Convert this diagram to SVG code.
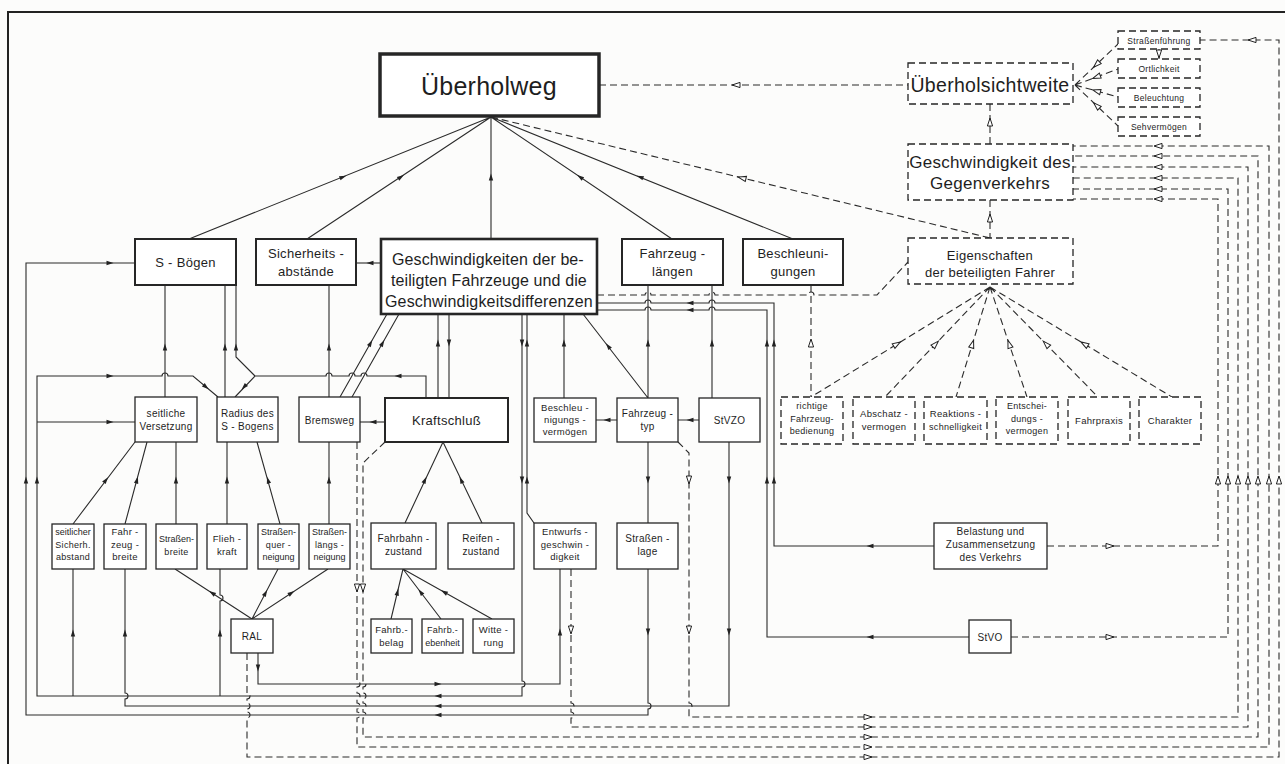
<svg xmlns="http://www.w3.org/2000/svg" xmlns:xlink="http://www.w3.org/1999/xlink" width="1285" height="764" viewBox="0 0 1285 764">
<style>
text{font-family:"Liberation Sans",Arial,sans-serif;fill:#1e1e1e;text-anchor:middle;letter-spacing:0.3px}
.bx{fill:#fff;stroke:#262626;stroke-width:1.3}
.m{stroke-width:2}
.t{stroke-width:3.5}
.bd{stroke-dasharray:7 4}
.ln{fill:none;stroke:#2b2b2b;stroke-width:1.1}
.dl{stroke-dasharray:7 4}
.f9{font-size:9px}.f95{font-size:9.5px}.f10{font-size:10px}.f13{font-size:13px}
</style>
<defs>
<path id="fa" d="M3.5,0 L-3.5,-2.2 L-3.5,2.2 Z" fill="#222"/>
<path id="ha" d="M4,0 L-4,-2.6 L-4,2.6 Z" fill="#fff" stroke="#222" stroke-width="1"/>
</defs>
<rect width="1285" height="764" fill="#fcfcfb"/>
<path d="M8,764 V12 H1285" fill="none" stroke="#222" stroke-width="2"/>

<g id="connectors">
<!-- fan from Überholweg -->
<path class="ln" d="M491,117 L189,239 M491,117 L307,239 M491,117 L491,239 M491,117 L672,239 M491,117 L793,239"/>
<path class="ln dl" d="M491,117 L990,238"/>
<path class="ln dl" d="M599,85 H908"/>
<!-- Überholsichtweite fan -->
<path class="ln dl" d="M1075,85 L1118,44 M1075,85 L1118,69 M1075,85 L1118,97 M1075,85 L1118,126"/>
<path class="ln" d="M1159,49 V59"/>
<path class="ln dl" d="M990,104 V144 M990,200 V238"/>
<!-- RAL -> Straßenführung -->
<path class="ln dl" d="M247,653 V693 A3,3 0 0 1 247,699 V703 A3,3 0 0 1 247,709 V712 A3,3 0 0 1 247,718 V757 H1279 V40 H1200"/>
<!-- loops to Gegenverkehr -->
<path class="ln dl" d="M357,442 V681 A3,3 0 0 1 357,687 V693 A3,3 0 0 1 357,699 V703 A3,3 0 0 1 357,709 V712 A3,3 0 0 1 357,718 V747 H1269 V146 H1073"/>
<path class="ln dl" d="M385,442 L363,463 V681 A3,3 0 0 1 363,687 V693 A3,3 0 0 1 363,699 V703 A3,3 0 0 1 363,709 V712 A3,3 0 0 1 363,718 V737 H1258 V156 H1073"/>
<path class="ln dl" d="M571,569 V703 A3,3 0 0 1 571,709 V712 A3,3 0 0 1 571,718 V727 H1248 V167 H1073"/>
<path class="ln dl" d="M678,442 L689,453 V703 A3,3 0 0 1 689,709 V717 H1238 V178 H1073"/>
<path class="ln dl" d="M1047,546 H1218 V199 H1073"/>
<path class="ln dl" d="M1011,637 H1228 V189 H1073"/>
<!-- Eigenschaften links -->
<path class="ln dl" d="M597,295 H645 A3,3 0 0 1 651,295 H709 A3,3 0 0 1 715,295 H808 A3,3 0 0 1 814,295 H877 L908,262"/>
<path class="ln dl" d="M811,285 V397"/>
<path class="ln dl" d="M990,287 L811,397 M990,287 L885,397 M990,287 L956,397 M990,287 L1027,397 M990,287 L1098,397 M990,287 L1172,397"/>
<!-- Belastung / StVO to Geschwindigkeiten -->
<path class="ln" d="M597,303 H645 A3,3 0 0 1 651,303 H709 A3,3 0 0 1 715,303 H774 V546 H934"/>
<path class="ln" d="M597,310 H645 A3,3 0 0 1 651,310 H709 A3,3 0 0 1 715,310 H767 V637 H969"/>
<!-- left network -->
<path class="ln" d="M381,263 H356"/>
<path class="ln" d="M648,569 V703 A3,3 0 0 1 648,709 V715 H26 V263 H135"/>
<path class="ln" d="M522,314 V681 A3,3 0 0 1 522,687 V696 H37 V376 H162 A3,3 0 0 1 168,376 H193 L218,397 M37,422 H135"/>
<path class="ln" d="M73,696 V569 M220,569 V595 A3,3 0 0 1 220,601 V696"/>
<path class="ln" d="M125,569 V693 A3,3 0 0 1 125,699 V706 H729 V442"/>
<path class="ln" d="M258,653 V684 H560 V569"/>
<path class="ln" d="M527,314 V513 L534,523"/>
<path class="ln" d="M438,314 V398 M449,314 V398"/>
<path class="ln" d="M426,398 V376 H367 A3,3 0 0 0 361,376 H355 A3,3 0 0 0 349,376 H332 A3,3 0 0 0 326,376 H255 L235,397 M255,376 L236,357 V285"/>
<path class="ln" d="M165,397 V285 M225,397 V285 M329,285 V397"/>
<path class="ln" d="M340,397 L387,314 M352,397 L399,314"/>
<path class="ln" d="M385,422 H360"/>
<path class="ln" d="M564,398 V314 M648,398 L583,314 M648,398 V285 M712,398 V285"/>
<path class="ln" d="M617,420 H596 M699,420 H678 M648,442 V523"/>
<path class="ln" d="M443,442 L405,523 M443,442 L482,523"/>
<path class="ln" d="M403,569 L391,619 M403,569 L441,619 M403,569 L492,619"/>
<path class="ln" d="M73,524 L135,442 M125,524 L147,442 M176,524 V442 M227,524 V442 M280,524 L257,442 M329,524 V442"/>
<path class="ln" d="M252,619 L175,569 M252,619 L278,569 M252,619 L328,569"/>

<!-- filled arrowheads -->
<use xlink:href="#fa" transform="translate(343,177) rotate(-22)"/>
<use xlink:href="#fa" transform="translate(401,177) rotate(-33.5)"/>
<use xlink:href="#fa" transform="translate(491,177) rotate(-90)"/>
<use xlink:href="#fa" transform="translate(580,177) rotate(-146)"/>
<use xlink:href="#fa" transform="translate(640,177) rotate(-158)"/>
<use xlink:href="#fa" transform="translate(370,263) rotate(180)"/>
<use xlink:href="#fa" transform="translate(110,263) rotate(0)"/>
<use xlink:href="#fa" transform="translate(110,422) rotate(0)"/>
<use xlink:href="#fa" transform="translate(110,376) rotate(0)"/>
<use xlink:href="#fa" transform="translate(206,387) rotate(40)"/>
<use xlink:href="#fa" transform="translate(244,387) rotate(133.6)"/>
<use xlink:href="#fa" transform="translate(236,347) rotate(-90)"/>
<use xlink:href="#fa" transform="translate(225,347) rotate(-90)"/>
<use xlink:href="#fa" transform="translate(165,347) rotate(-90)"/>
<use xlink:href="#fa" transform="translate(329,347) rotate(-90)"/>
<use xlink:href="#fa" transform="translate(398,376) rotate(180)"/>
<use xlink:href="#fa" transform="translate(373,422) rotate(180)"/>
<use xlink:href="#fa" transform="translate(370.6,343) rotate(-60.5)"/>
<use xlink:href="#fa" transform="translate(382.6,343) rotate(-60.5)"/>
<use xlink:href="#fa" transform="translate(438,343) rotate(-90)"/>
<use xlink:href="#fa" transform="translate(449,343) rotate(90)"/>
<use xlink:href="#fa" transform="translate(522,343) rotate(90)"/>
<use xlink:href="#fa" transform="translate(527,343) rotate(-90)"/>
<use xlink:href="#fa" transform="translate(522,480) rotate(90)"/>
<use xlink:href="#fa" transform="translate(527,480) rotate(-90)"/>
<use xlink:href="#fa" transform="translate(564,343) rotate(-90)"/>
<use xlink:href="#fa" transform="translate(608,346) rotate(-127.7)"/>
<use xlink:href="#fa" transform="translate(648,343) rotate(-90)"/>
<use xlink:href="#fa" transform="translate(712,343) rotate(-90)"/>
<use xlink:href="#fa" transform="translate(690,303) rotate(180)"/>
<use xlink:href="#fa" transform="translate(690,310) rotate(180)"/>
<use xlink:href="#fa" transform="translate(774,343) rotate(-90)"/>
<use xlink:href="#fa" transform="translate(767,343) rotate(-90)"/>
<use xlink:href="#fa" transform="translate(774,480) rotate(-90)"/>
<use xlink:href="#fa" transform="translate(767,480) rotate(-90)"/>
<use xlink:href="#fa" transform="translate(870,546) rotate(180)"/>
<use xlink:href="#fa" transform="translate(870,637) rotate(180)"/>
<use xlink:href="#fa" transform="translate(607,420) rotate(180)"/>
<use xlink:href="#fa" transform="translate(690,420) rotate(180)"/>
<use xlink:href="#fa" transform="translate(648,480) rotate(90)"/>
<use xlink:href="#fa" transform="translate(729,480) rotate(90)"/>
<use xlink:href="#fa" transform="translate(648,632) rotate(90)"/>
<use xlink:href="#fa" transform="translate(729,632) rotate(90)"/>
<use xlink:href="#fa" transform="translate(560,632) rotate(-90)"/>
<use xlink:href="#fa" transform="translate(258,668) rotate(90)"/>
<use xlink:href="#fa" transform="translate(438,684) rotate(0)"/>
<use xlink:href="#fa" transform="translate(438,696) rotate(180)"/>
<use xlink:href="#fa" transform="translate(438,706) rotate(180)"/>
<use xlink:href="#fa" transform="translate(438,715) rotate(180)"/>
<use xlink:href="#fa" transform="translate(26,480) rotate(-90)"/>
<use xlink:href="#fa" transform="translate(37,480) rotate(-90)"/>
<use xlink:href="#fa" transform="translate(73,633) rotate(-90)"/>
<use xlink:href="#fa" transform="translate(125,633) rotate(-90)"/>
<use xlink:href="#fa" transform="translate(220,633) rotate(-90)"/>
<use xlink:href="#fa" transform="translate(106,480) rotate(-52.9)"/>
<use xlink:href="#fa" transform="translate(137,480) rotate(-75)"/>
<use xlink:href="#fa" transform="translate(176,480) rotate(-90)"/>
<use xlink:href="#fa" transform="translate(227,480) rotate(-90)"/>
<use xlink:href="#fa" transform="translate(268,480) rotate(-105.7)"/>
<use xlink:href="#fa" transform="translate(329,480) rotate(-90)"/>
<use xlink:href="#fa" transform="translate(212,593) rotate(-147)"/>
<use xlink:href="#fa" transform="translate(265.5,593) rotate(-62.5)"/>
<use xlink:href="#fa" transform="translate(291.5,593) rotate(-33.3)"/>
<use xlink:href="#fa" transform="translate(425,480) rotate(-64.9)"/>
<use xlink:href="#fa" transform="translate(461,480) rotate(-115.7)"/>
<use xlink:href="#fa" transform="translate(397.5,592) rotate(-76.5)"/>
<use xlink:href="#fa" transform="translate(420.5,592) rotate(-127.2)"/>
<use xlink:href="#fa" transform="translate(444,592) rotate(-150.7)"/>

<!-- hollow arrowheads -->
<use xlink:href="#ha" transform="translate(742,178) rotate(-166.4)"/>
<use xlink:href="#ha" transform="translate(736,85) rotate(180)"/>
<use xlink:href="#ha" transform="translate(1096.5,64.5) rotate(136.4)"/>
<use xlink:href="#ha" transform="translate(1096.5,77) rotate(159.6)"/>
<use xlink:href="#ha" transform="translate(1096.5,91) rotate(-164.4)"/>
<use xlink:href="#ha" transform="translate(1096.5,105.5) rotate(-136.4)"/>
<use xlink:href="#ha" transform="translate(1159,54) rotate(90)"/>
<use xlink:href="#ha" transform="translate(1252,40) rotate(180)"/>
<use xlink:href="#ha" transform="translate(1158,146) rotate(180)"/>
<use xlink:href="#ha" transform="translate(1158,156) rotate(180)"/>
<use xlink:href="#ha" transform="translate(1158,167) rotate(180)"/>
<use xlink:href="#ha" transform="translate(1158,178) rotate(180)"/>
<use xlink:href="#ha" transform="translate(1158,189) rotate(180)"/>
<use xlink:href="#ha" transform="translate(1158,199) rotate(180)"/>
<use xlink:href="#ha" transform="translate(1218,480) rotate(-90)"/>
<use xlink:href="#ha" transform="translate(1228,480) rotate(-90)"/>
<use xlink:href="#ha" transform="translate(1238,480) rotate(-90)"/>
<use xlink:href="#ha" transform="translate(1248,480) rotate(-90)"/>
<use xlink:href="#ha" transform="translate(1258,480) rotate(-90)"/>
<use xlink:href="#ha" transform="translate(1269,480) rotate(-90)"/>
<use xlink:href="#ha" transform="translate(1279,480) rotate(-90)"/>
<use xlink:href="#ha" transform="translate(868,717) rotate(0)"/>
<use xlink:href="#ha" transform="translate(868,727) rotate(0)"/>
<use xlink:href="#ha" transform="translate(868,737) rotate(0)"/>
<use xlink:href="#ha" transform="translate(868,747) rotate(0)"/>
<use xlink:href="#ha" transform="translate(868,757) rotate(0)"/>
<use xlink:href="#ha" transform="translate(1110,546) rotate(0)"/>
<use xlink:href="#ha" transform="translate(1110,637) rotate(0)"/>
<use xlink:href="#ha" transform="translate(990,122) rotate(-90)"/>
<use xlink:href="#ha" transform="translate(990,218) rotate(-90)"/>
<use xlink:href="#ha" transform="translate(811,343) rotate(-90)"/>
<use xlink:href="#ha" transform="translate(897,344) rotate(-31.6)"/>
<use xlink:href="#ha" transform="translate(935.6,344) rotate(-46.3)"/>
<use xlink:href="#ha" transform="translate(972.4,344) rotate(-73)"/>
<use xlink:href="#ha" transform="translate(1009.2,344) rotate(-108.6)"/>
<use xlink:href="#ha" transform="translate(1046,344) rotate(-134.5)"/>
<use xlink:href="#ha" transform="translate(1084.3,344) rotate(-148.9)"/>
<use xlink:href="#ha" transform="translate(357,588) rotate(90)"/>
<use xlink:href="#ha" transform="translate(363,588) rotate(90)"/>
<use xlink:href="#ha" transform="translate(571,630) rotate(90)"/>
<use xlink:href="#ha" transform="translate(689,480) rotate(90)"/>
<use xlink:href="#ha" transform="translate(689,630) rotate(90)"/>
</g>

<g id="n-ueberholweg"><rect class="bx t" x="380" y="54" width="219" height="62"/><text x="489" y="95" style="font-size:25px" textLength="136">Überholweg</text></g>
<g id="n-sichtweite"><rect class="bx bd" x="908" y="63" width="165" height="41"/><text x="990" y="92" style="font-size:19.5px">Überholsichtweite</text></g>
<g id="n-strassenfuehrung"><rect class="bx bd" x="1118" y="31" width="82" height="18"/><text class="f9" x="1159" y="43.5" style="font-size:8.5px">Straßenführung</text></g>
<g id="n-oertlichkeit"><rect class="bx bd" x="1118" y="59" width="82" height="19"/><text x="1159" y="71.5" style="font-size:8.5px">Ortlichkeit</text></g>
<g id="n-beleuchtung"><rect class="bx bd" x="1118" y="88" width="82" height="19"/><text x="1159" y="100.5" style="font-size:8.5px">Beleuchtung</text></g>
<g id="n-sehvermoegen"><rect class="bx bd" x="1118" y="117" width="82" height="19"/><text x="1159" y="129.5" style="font-size:8.5px">Sehvermögen</text></g>
<g id="n-gegenverkehr"><rect class="bx bd" x="908" y="144" width="165" height="56"/><text x="990" y="168" style="font-size:17px">Geschwindigkeit des</text><text x="990" y="189" style="font-size:17px">Gegenverkehrs</text></g>
<g id="n-eigenschaften"><rect class="bx bd" x="908" y="238" width="165" height="46"/><text class="f13" x="990" y="260">Eigenschaften</text><text class="f13" x="990" y="277">der beteiligten Fahrer</text></g>

<g id="n-sboegen"><rect class="bx m" x="135" y="239" width="101" height="46"/><text class="f13" x="185.5" y="267">S - Bögen</text></g>
<g id="n-sicherheit"><rect class="bx m" x="256" y="239" width="100" height="46"/><text class="f13" x="306" y="258">Sicherheits -</text><text class="f13" x="306" y="276">abstände</text></g>
<g id="n-geschw"><rect class="bx" style="stroke-width:2.6" x="381" y="239" width="216" height="75"/><text x="488" y="265" style="font-size:16px" textLength="192">Geschwindigkeiten der be-</text><text x="489" y="286" style="font-size:16px" textLength="196">teiligten Fahrzeuge und die</text><text x="489" y="307" style="font-size:16px" textLength="208">Geschwindigkeitsdifferenzen</text></g>
<g id="n-fzlaengen"><rect class="bx m" x="622" y="239" width="101" height="46"/><text class="f13" x="672.5" y="258">Fahrzeug -</text><text class="f13" x="672.5" y="276">längen</text></g>
<g id="n-beschleunigungen"><rect class="bx m" x="743" y="239" width="100" height="46"/><text class="f13" x="793" y="258">Beschleuni-</text><text class="f13" x="793" y="276">gungen</text></g>

<g id="n-versetzung"><rect class="bx" x="135" y="397" width="62" height="45"/><text class="f10" x="166" y="417">seitliche</text><text class="f10" x="166" y="430">Versetzung</text></g>
<g id="n-radius"><rect class="bx" x="217" y="397" width="61" height="45"/><text class="f10" x="247.5" y="417">Radius des</text><text class="f10" x="247.5" y="430">S - Bogens</text></g>
<g id="n-bremsweg"><rect class="bx" x="299" y="397" width="61" height="45"/><text class="f10" x="329.5" y="423.5">Bremsweg</text></g>
<g id="n-kraftschluss"><rect class="bx m" x="385" y="398" width="123" height="44"/><text class="f13" x="446.5" y="424.5">Kraftschluß</text></g>
<g id="n-beschlvermoegen"><rect class="bx" x="534" y="398" width="62" height="44"/><text class="f95" x="565" y="410.5">Beschleu -</text><text class="f95" x="565" y="422.5">nigungs -</text><text class="f95" x="565" y="434.5">vermögen</text></g>
<g id="n-fzgtyp"><rect class="bx" x="617" y="398" width="61" height="44"/><text class="f10" x="647.5" y="417">Fahrzeug -</text><text class="f10" x="647.5" y="430">typ</text></g>
<g id="n-stvzo"><rect class="bx" x="699" y="398" width="61" height="44"/><text class="f10" x="729.5" y="424">StVZO</text></g>

<g id="n-bedienung"><rect class="bx bd" x="781" y="397" width="62" height="47"/><text class="f9" x="812" y="409">richtige</text><text class="f9" x="812" y="421.5">Fahrzeug-</text><text class="f9" x="812" y="434">bedienung</text></g>
<g id="n-abschatz"><rect class="bx bd" x="853" y="397" width="62" height="47"/><text class="f95" x="884" y="417">Abschatz -</text><text class="f95" x="884" y="430">vermogen</text></g>
<g id="n-reaktion"><rect class="bx bd" x="924" y="397" width="63" height="47"/><text class="f95" x="955.5" y="417">Reaktions -</text><text class="f9" x="955.5" y="430">schnelligkeit</text></g>
<g id="n-entscheidung"><rect class="bx bd" x="996" y="397" width="62" height="47"/><text class="f9" x="1027" y="409">Entschei-</text><text class="f9" x="1027" y="421.5">dungs -</text><text class="f9" x="1027" y="434">vermogen</text></g>
<g id="n-fahrpraxis"><rect class="bx bd" x="1068" y="397" width="62" height="47"/><text class="f95" x="1099" y="424">Fahrpraxis</text></g>
<g id="n-charakter"><rect class="bx bd" x="1139" y="397" width="62" height="47"/><text class="f95" x="1170" y="424">Charakter</text></g>

<g id="n-sicherhabstand"><rect class="bx" x="52" y="524" width="42" height="45"/><text class="f9" x="73" y="535" style="letter-spacing:0">seitlicher</text><text class="f9" x="73" y="547.5">Sicherh.</text><text class="f9" x="73" y="560">abstand</text></g>
<g id="n-fzbreite"><rect class="bx" x="104" y="524" width="42" height="45"/><text class="f95" x="125" y="535">Fahr -</text><text class="f95" x="125" y="547.5">zeug -</text><text class="f95" x="125" y="560">breite</text></g>
<g id="n-strbreite"><rect class="bx" x="156" y="524" width="41" height="45"/><text class="f9" x="176.5" y="542" style="letter-spacing:0">Straßen-</text><text class="f9" x="176.5" y="555">breite</text></g>
<g id="n-fliehkraft"><rect class="bx" x="207" y="524" width="40" height="45"/><text class="f95" x="227" y="542">Flieh -</text><text class="f95" x="227" y="555">kraft</text></g>
<g id="n-querneigung"><rect class="bx" x="258" y="524" width="41" height="45"/><text class="f9" x="278.5" y="535" style="letter-spacing:0">Straßen-</text><text class="f9" x="278.5" y="547.5">quer -</text><text class="f9" x="278.5" y="560" style="letter-spacing:0">neigung</text></g>
<g id="n-laengsneigung"><rect class="bx" x="309" y="524" width="41" height="45"/><text class="f9" x="329.5" y="535" style="letter-spacing:0">Straßen-</text><text class="f9" x="329.5" y="547.5">längs -</text><text class="f9" x="329.5" y="560" style="letter-spacing:0">neigung</text></g>
<g id="n-fahrbahnzustand"><rect class="bx" x="371" y="523" width="65" height="46"/><text class="f10" x="403.5" y="542">Fahrbahn -</text><text class="f10" x="403.5" y="555">zustand</text></g>
<g id="n-reifenzustand"><rect class="bx" x="448" y="523" width="66" height="46"/><text class="f10" x="481" y="542">Reifen -</text><text class="f10" x="481" y="555">zustand</text></g>
<g id="n-entwurf"><rect class="bx" x="534" y="523" width="62" height="46"/><text class="f95" x="565" y="535">Entwurfs -</text><text class="f95" x="565" y="547.5">geschwin -</text><text class="f95" x="565" y="560">digkeit</text></g>
<g id="n-strlage"><rect class="bx" x="617" y="523" width="61" height="46"/><text class="f10" x="647.5" y="542">Straßen -</text><text class="f10" x="647.5" y="555">lage</text></g>
<g id="n-belastung"><rect class="bx" x="934" y="523" width="113" height="46"/><text class="f10" x="990.5" y="535">Belastung und</text><text class="f10" x="990.5" y="548">Zusammensetzung</text><text class="f10" x="990.5" y="561">des Verkehrs</text></g>

<g id="n-ral"><rect class="bx" x="231" y="619" width="42" height="34"/><text class="f10" x="252" y="640">RAL</text></g>
<g id="n-belag"><rect class="bx" x="371" y="619" width="41" height="34"/><text class="f95" x="391.5" y="633">Fahrb.-</text><text class="f95" x="391.5" y="646">belag</text></g>
<g id="n-ebenheit"><rect class="bx" x="422" y="619" width="41" height="34"/><text class="f9" x="442.5" y="633">Fahrb.-</text><text class="f9" x="442.5" y="646" style="letter-spacing:0">ebenheit</text></g>
<g id="n-witterung"><rect class="bx" x="473" y="619" width="41" height="34"/><text class="f95" x="493.5" y="633">Witte -</text><text class="f95" x="493.5" y="646">rung</text></g>
<g id="n-stvo"><rect class="bx" x="969" y="620" width="42" height="33"/><text class="f10" x="990" y="640.5">StVO</text></g>
</svg>
